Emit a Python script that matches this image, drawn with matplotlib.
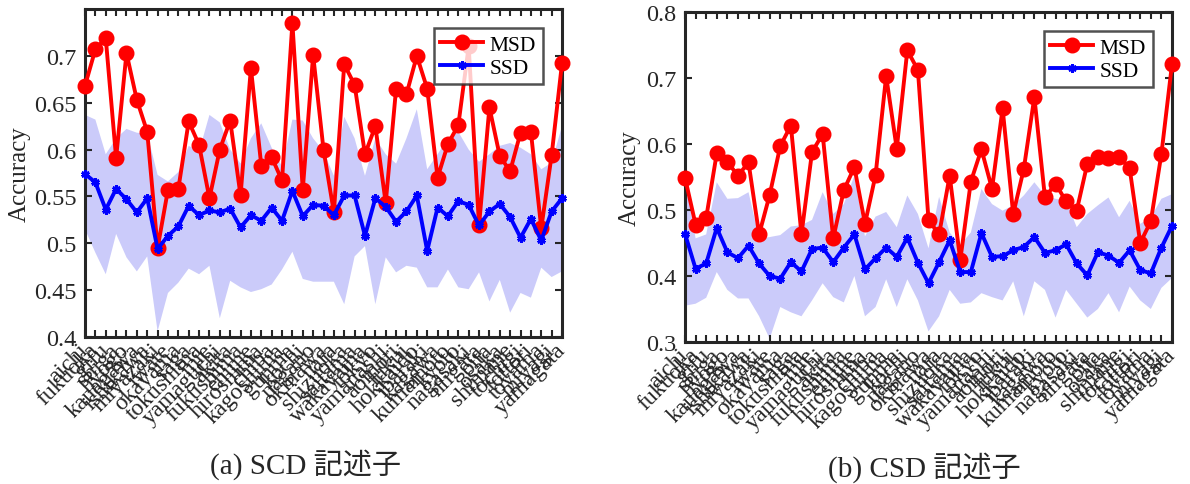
import matplotlib
matplotlib.use("Agg")
import matplotlib.pyplot as plt
import numpy as np

prefectures = ["aichi", "fukuoka", "gifu", "shiga", "hyogo", "kanagawa", "ishikawa", "miyazaki",
               "iwate", "okayama", "saga", "tokushima", "mie", "yamaguchi", "akita", "fukushima",
               "ehime", "hiroshima", "chiba", "kagoshima", "gunma", "kochi", "nagano", "okinawa",
               "nara", "shizuoka", "saitama", "wakayama", "tokyo", "yamanashi", "aomori", "fukui",
               "hokkaido", "ibaraki", "kagawa", "kumamoto", "kyoto", "nagasaki", "niigata", "oita",
               "osaka", "shimane", "tochigi", "tottori", "toyama", "miyagi", "yamagata"]

# Panel (a) SCD
scd_msd = [0.668, 0.707, 0.719, 0.591, 0.703, 0.653, 0.619, 0.495, 0.557, 0.558,
           0.630, 0.605, 0.548, 0.600, 0.631, 0.551, 0.687, 0.583, 0.592, 0.567,
           0.735, 0.557, 0.701, 0.600, 0.533, 0.691, 0.669, 0.595, 0.625, 0.543,
           0.665, 0.659, 0.700, 0.665, 0.570, 0.606, 0.626, 0.710, 0.519, 0.645,
           0.593, 0.577, 0.618, 0.619, 0.516, 0.594, 0.692]
scd_ssd = [0.574, 0.565, 0.536, 0.558, 0.547, 0.533, 0.548, 0.494, 0.508, 0.518,
           0.540, 0.530, 0.535, 0.533, 0.537, 0.517, 0.530, 0.524, 0.538, 0.524,
           0.556, 0.529, 0.541, 0.540, 0.530, 0.551, 0.551, 0.508, 0.548, 0.539,
           0.523, 0.534, 0.551, 0.492, 0.538, 0.529, 0.545, 0.541, 0.519, 0.534,
           0.542, 0.528, 0.506, 0.526, 0.503, 0.534, 0.548]
scd_upper = [0.637, 0.632, 0.595, 0.612, 0.622, 0.618, 0.617, 0.573, 0.566, 0.576,
             0.604, 0.598, 0.637, 0.629, 0.600, 0.585, 0.612, 0.628, 0.602, 0.582,
             0.632, 0.631, 0.612, 0.598, 0.572, 0.635, 0.612, 0.572, 0.612, 0.595,
             0.585, 0.612, 0.643, 0.579, 0.595, 0.612, 0.619, 0.600, 0.587, 0.595,
             0.604, 0.607, 0.602, 0.595, 0.579, 0.586, 0.625]
scd_lower = [0.515, 0.490, 0.467, 0.510, 0.485, 0.470, 0.486, 0.406, 0.447, 0.458,
             0.473, 0.467, 0.476, 0.420, 0.460, 0.453, 0.448, 0.451, 0.456, 0.472,
             0.491, 0.462, 0.459, 0.459, 0.459, 0.435, 0.486, 0.497, 0.435, 0.485,
             0.469, 0.476, 0.474, 0.453, 0.453, 0.472, 0.453, 0.451, 0.469, 0.438,
             0.461, 0.426, 0.447, 0.442, 0.474, 0.464, 0.470]

# Panel (b) CSD
csd_msd = [0.549, 0.478, 0.488, 0.586, 0.573, 0.552, 0.572, 0.463, 0.523, 0.597,
           0.628, 0.463, 0.588, 0.615, 0.457, 0.530, 0.565, 0.479, 0.553, 0.703,
           0.593, 0.742, 0.712, 0.485, 0.463, 0.552, 0.424, 0.543, 0.592, 0.532,
           0.654, 0.494, 0.562, 0.671, 0.519, 0.540, 0.513, 0.499, 0.570, 0.581,
           0.579, 0.581, 0.563, 0.450, 0.483, 0.585, 0.721]
csd_ssd = [0.464, 0.411, 0.419, 0.473, 0.436, 0.427, 0.446, 0.419, 0.400, 0.396,
           0.421, 0.407, 0.441, 0.443, 0.421, 0.443, 0.463, 0.410, 0.427, 0.443,
           0.429, 0.458, 0.420, 0.389, 0.421, 0.454, 0.406, 0.406, 0.465, 0.429,
           0.430, 0.439, 0.444, 0.459, 0.435, 0.439, 0.448, 0.419, 0.401, 0.436,
           0.431, 0.420, 0.439, 0.409, 0.404, 0.443, 0.476]
csd_upper = [0.549, 0.457, 0.463, 0.542, 0.517, 0.518, 0.527, 0.457, 0.459, 0.462,
             0.475, 0.477, 0.485, 0.527, 0.494, 0.509, 0.552, 0.460, 0.490, 0.497,
             0.474, 0.522, 0.494, 0.442, 0.520, 0.466, 0.447, 0.466, 0.532, 0.509,
             0.499, 0.507, 0.522, 0.542, 0.522, 0.517, 0.514, 0.474, 0.494, 0.507,
             0.519, 0.489, 0.514, 0.479, 0.489, 0.517, 0.524]
csd_lower = [0.355, 0.358, 0.367, 0.406, 0.379, 0.366, 0.366, 0.339, 0.305, 0.353,
             0.345, 0.339, 0.363, 0.389, 0.368, 0.360, 0.400, 0.339, 0.353, 0.395,
             0.353, 0.395, 0.363, 0.316, 0.339, 0.379, 0.358, 0.360, 0.374, 0.368,
             0.363, 0.392, 0.339, 0.392, 0.379, 0.337, 0.379, 0.358, 0.337, 0.350,
             0.374, 0.345, 0.384, 0.363, 0.350, 0.382, 0.397]

SERIF = ["Liberation Serif", "DejaVu Serif"]
CAPTION_FONT = ["Liberation Serif", "Noto Sans CJK JP"]
plt.rcParams['font.family'] = SERIF

W, H = 1190, 485
fig = plt.figure(figsize=(W / 100, H / 100), dpi=100)


def px_axes(l, t, r, b):
    return fig.add_axes([l / W, 1 - b / H, (r - l) / W, (b - t) / H])


def draw_panel(ax, msd, ssd, upper, lower, ylim, yticks, yticklabels, ylabel_x):
    x = np.arange(len(prefectures))
    ax.fill_between(x, lower, upper, facecolor="#CBCBFA", edgecolor="none", zorder=1)
    ax.plot(x, msd, color="#FF0000", lw=2.8, marker="o", ms=10.5, mfc="#FF0000",
            mec="#FF0000", label="MSD", zorder=3, clip_on=False)
    ax.plot(x, ssd, color="#0000FF", lw=2.8, marker=(6, 2, 0), ms=6, mew=2,
            mec="#0000FF", label="SSD", zorder=4, clip_on=False)
    ax.set_xlim(0, len(prefectures) - 1)
    ax.set_ylim(*ylim)
    ax.set_yticks(yticks)
    ax.set_yticklabels(yticklabels, fontsize=17.5, color="#262626")
    ax.set_xticks(x)
    ax.set_xticklabels(prefectures, rotation=45, rotation_mode="anchor",
                       ha="right", va="center", fontsize=17, color="#262626")
    ax.tick_params(axis="both", direction="in", top=True, right=True,
                   length=5, width=1.5, color="#262626")
    ax.tick_params(axis="x", pad=7)
    ax.tick_params(axis="y", pad=6)
    for s in ax.spines.values():
        s.set_linewidth(2.2)
        s.set_color("#262626")
    ax.set_ylabel("Accuracy", fontsize=18, color="#262626", ha="center", va="center")
    ax.yaxis.set_label_coords(ylabel_x, 0.5)
    leg = ax.legend(loc="upper right", fontsize=15.5, frameon=True, fancybox=False,
                    handlelength=2.0, borderpad=0.3, labelspacing=0.12,
                    handletextpad=0.3, borderaxespad=0.9)
    leg.get_frame().set_edgecolor("#262626")
    leg.get_frame().set_linewidth(1.8)
    leg.set_zorder(10)


ax1 = px_axes(85, 10, 562, 338)
draw_panel(ax1, scd_msd, scd_ssd, scd_upper, scd_lower, (0.4, 0.75),
           [0.4, 0.45, 0.5, 0.55, 0.6, 0.65, 0.7],
           ["0.4", "0.45", "0.5", "0.55", "0.6", "0.65", "0.7"], -0.136)

ax2 = px_axes(685, 13, 1172, 343)
draw_panel(ax2, csd_msd, csd_ssd, csd_upper, csd_lower, (0.3, 0.8),
           [0.3, 0.4, 0.5, 0.6, 0.7, 0.8],
           ["0.3", "0.4", "0.5", "0.6", "0.7", "0.8"], -0.113)

fig.text(305 / W, 1 - 465 / H, "(a) SCD 記述子", ha="center", va="center",
         fontsize=21, family=CAPTION_FONT, color="#262626")
fig.text(924 / W, 1 - 468 / H, "(b) CSD 記述子", ha="center", va="center",
         fontsize=21, family=CAPTION_FONT, color="#262626")

fig.savefig("out.png", dpi=100)
